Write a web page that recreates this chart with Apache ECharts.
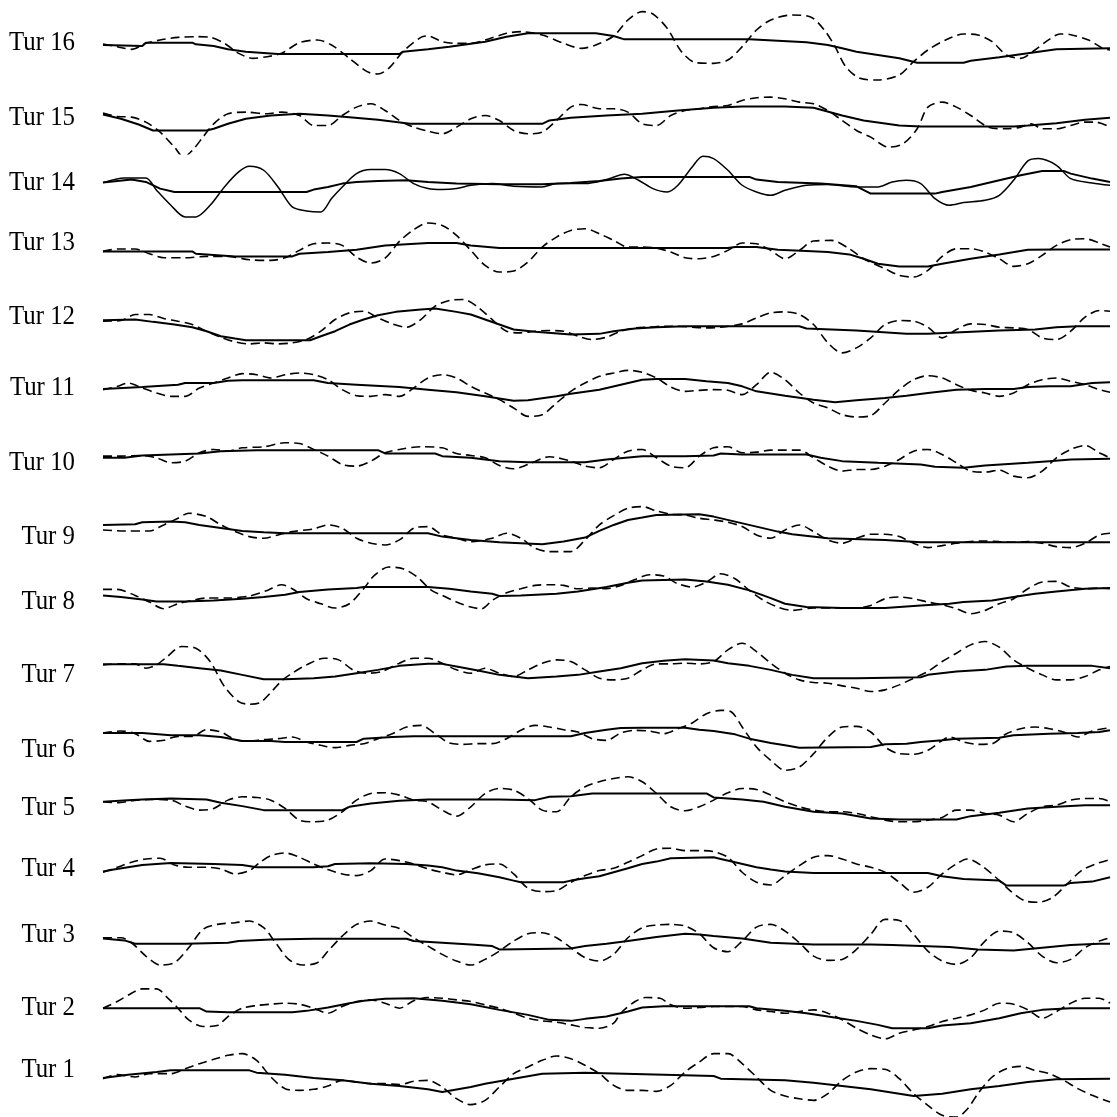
<!DOCTYPE html>
<html>
<head>
<meta charset="utf-8">
<script src="https://cdn.jsdelivr.net/npm/echarts@6/dist/echarts.min.js"></script>
<style>
html,body{margin:0;padding:0;background:#fff;}
#chart{width:1117px;height:1117px;}
</style>
</head>
<body>
<div id="chart"></div>
<script>
// Row labels, top to bottom
const labels = ['Tur 16','Tur 15','Tur 14','Tur 13','Tur 12','Tur 11','Tur 10','Tur 9','Tur 8','Tur 7','Tur 6','Tur 5','Tur 4','Tur 3','Tur 2','Tur 1'];

// Each series: [time, value] pairs (time 145..1555, value relative to row centre)
const s16 = [[145,0],[200,-3],[205,7],[270,7],[275,2],[300,-3],[320,-13],[345,-20],[390,-27],[560,-27],[565,-20],[600,-13],[630,-5],[680,10],[710,25],[740,35],[835,35],[860,27],[875,17],[1050,17],[1090,13],[1130,8],[1160,0],[1180,-10],[1200,-20],[1230,-30],[1260,-40],[1285,-53],[1350,-53],[1360,-47],[1400,-37],[1440,-25],[1480,-13],[1555,-10]];
const d16 = [[145,3],[165,-5],[185,-13],[205,5],[230,17],[250,23],[275,25],[295,23],[315,5],[335,-25],[355,-40],[375,-35],[395,-25],[420,7],[445,15],[465,0],[490,-40],[515,-80],[530,-87],[545,-70],[565,-20],[590,23],[600,27],[620,10],[640,5],[660,5],[680,15],[710,35],[730,40],[760,30],[790,5],[815,-10],[835,0],[860,27],[880,75],[900,100],[915,93],[935,50],[955,-20],[975,-53],[1000,-55],[1020,-45],[1040,-5],[1060,45],[1080,75],[1110,90],[1135,85],[1155,45],[1170,-5],[1185,-65],[1205,-100],[1230,-105],[1260,-90],[1280,-50],[1300,-15],[1325,15],[1350,33],[1370,30],[1390,10],[1410,-30],[1430,-40],[1450,-15],[1470,17],[1485,33],[1500,31],[1525,15],[1545,-10],[1555,-15]];

const s15 = [[145,-2],[170,-15],[195,-32],[215,-50],[290,-50],[300,-45],[320,-30],[345,-15],[380,-5],[420,0],[460,-5],[490,-10],[530,-18],[575,-30],[760,-30],[770,-20],[800,-12],[850,-5],[900,0],[950,10],[1000,18],[1040,22],[1100,22],[1140,18],[1180,-5],[1210,-20],[1260,-35],[1290,-38],[1420,-38],[1440,-35],[1480,-28],[1520,-18],[1555,-12]];
const d15 = [[145,2],[165,-8],[185,-10],[205,-25],[225,-55],[245,-100],[258,-130],[270,-110],[285,-70],[300,-30],[320,0],[345,5],[375,0],[395,5],[420,-5],[440,-35],[460,-35],[480,-5],[500,20],[520,30],[540,10],[560,-20],[580,-40],[600,-52],[620,-60],[640,-40],[660,-15],[680,-5],[700,-20],[720,-50],[740,-60],[760,-55],[780,-20],[800,20],[815,28],[840,15],[860,15],[880,5],[900,-30],[920,-35],[940,-5],[960,10],[980,15],[1000,22],[1020,25],[1040,40],[1060,48],[1080,50],[1100,45],[1120,35],[1140,30],[1160,10],[1180,-20],[1200,-50],[1220,-70],[1245,-100],[1265,-90],[1285,-45],[1300,20],[1320,35],[1340,20],[1360,-5],[1385,-40],[1410,-45],[1430,-40],[1445,-30],[1460,-45],[1480,-45],[1500,-35],[1520,-25],[1535,-25],[1555,-40]];

const s14 = [[145,0],[165,5],[185,9],[205,2],[225,-18],[245,-28],[430,-28],[440,-21],[460,-13],[480,-3],[500,2],[530,5],[570,7],[600,2],[640,-3],[700,-5],[760,-5],[800,-1],[840,5],[870,12],[900,17],[1050,17],[1060,9],[1090,2],[1150,-3],[1200,-11],[1220,-33],[1310,-33],[1320,-28],[1360,-13],[1400,7],[1430,22],[1460,35],[1490,35],[1500,27],[1530,12],[1555,2]];
const f14 = [[145,0],[175,14],[205,14],[220,-23],[240,-68],[260,-103],[275,-103],[295,-68],[315,-13],[335,32],[350,49],[370,37],[390,-13],[410,-73],[430,-85],[450,-88],[465,-48],[480,-13],[500,27],[520,39],[540,39],[560,27],[580,-3],[600,-18],[620,-21],[640,-18],[660,-8],[690,-3],[720,-11],[760,-13],[780,-3],[820,-3],[850,9],[875,25],[895,7],[915,-18],[935,-28],[950,-8],[970,47],[985,79],[1000,72],[1020,37],[1040,-8],[1060,-28],[1080,-38],[1100,-23],[1130,-8],[1160,-6],[1200,-13],[1230,-13],[1250,2],[1270,7],[1290,-3],[1310,-48],[1330,-68],[1350,-60],[1380,-53],[1400,-38],[1420,7],[1440,65],[1455,72],[1480,52],[1500,12],[1530,-1],[1555,-8]];

const s13 = [[145,0],[270,0],[275,-7],[330,-15],[410,-15],[420,-7],[460,-2],[500,5],[540,18],[600,25],[640,25],[660,18],[700,10],[1020,10],[1030,13],[1060,13],[1090,5],[1130,1],[1160,-2],[1190,-9],[1210,-22],[1230,-37],[1260,-45],[1300,-45],[1320,-37],[1360,-22],[1400,-9],[1440,5],[1480,6],[1555,6]];
const d13 = [[145,0],[165,7],[190,7],[210,-7],[230,-19],[260,-19],[290,-15],[320,-15],[350,-25],[380,-27],[400,-19],[420,3],[440,23],[460,25],[480,18],[500,-17],[520,-35],[540,-20],[560,30],[580,65],[600,85],[620,78],[640,48],[660,3],[680,-42],[700,-62],[720,-59],[740,-32],[760,13],[780,43],[800,63],[820,68],[840,53],[860,33],[880,13],[900,13],[920,10],[940,-2],[960,-19],[980,-22],[1000,-15],[1020,3],[1040,25],[1060,23],[1080,3],[1100,-22],[1120,3],[1140,31],[1165,33],[1190,8],[1210,-22],[1240,-52],[1260,-72],[1280,-77],[1300,-57],[1320,-15],[1340,8],[1360,8],[1380,-2],[1400,-22],[1420,-45],[1440,-37],[1460,-12],[1480,18],[1500,35],[1520,38],[1540,25],[1555,13]];

const s12 = [[145,0],[190,2],[215,-5],[245,-13],[270,-21],[290,-33],[310,-48],[330,-55],[345,-60],[435,-60],[450,-48],[470,-33],[490,-13],[510,2],[530,15],[555,25],[590,32],[610,35],[640,25],[660,17],[680,2],[700,-13],[720,-28],[750,-35],[800,-43],[840,-41],[860,-33],[890,-25],[920,-21],[960,-18],[1120,-18],[1130,-25],[1200,-31],[1270,-41],[1300,-41],[1400,-31],[1450,-28],[1480,-21],[1510,-18],[1555,-18]];
const d12 = [[145,-3],[170,-1],[190,17],[210,17],[230,5],[250,-3],[270,-13],[290,-33],[310,-51],[330,-65],[350,-71],[370,-68],[390,-71],[410,-68],[430,-58],[450,-33],[470,2],[490,22],[510,27],[530,7],[550,-11],[570,-21],[590,2],[610,42],[630,59],[650,62],[670,39],[690,2],[710,-33],[730,-38],[750,-33],[770,-31],[790,-33],[810,-48],[830,-58],[850,-51],[870,-33],[890,-23],[910,-21],[930,-18],[950,-18],[970,-21],[990,-23],[1010,-21],[1040,-11],[1060,7],[1080,22],[1100,25],[1120,17],[1140,-13],[1160,-68],[1180,-98],[1200,-83],[1220,-53],[1240,-13],[1260,-1],[1280,-3],[1300,-21],[1320,-53],[1340,-28],[1360,-11],[1380,-13],[1400,-21],[1420,-23],[1440,-28],[1460,-53],[1480,-58],[1500,-33],[1520,9],[1540,29],[1555,27]];

const s11 = [[145,0],[200,6],[250,13],[260,18],[300,18],[320,25],[340,26],[440,26],[460,18],[500,13],[560,6],[600,-2],[640,-10],[680,-22],[720,-35],[740,-34],[780,-22],[800,-14],[840,-2],[870,13],[900,28],[920,30],[960,30],[990,23],[1020,18],[1040,8],[1060,-7],[1100,-20],[1140,-32],[1170,-40],[1200,-34],[1240,-27],[1270,-20],[1300,-12],[1340,-2],[1380,0],[1420,0],[1440,6],[1470,8],[1500,8],[1530,18],[1555,20]];
const d11 = [[145,-2],[165,8],[180,18],[200,3],[220,-12],[240,-22],[260,-22],[280,3],[300,18],[320,33],[340,46],[360,43],[380,33],[400,43],[420,48],[440,43],[460,28],[480,-2],[500,-20],[520,-22],[540,-17],[560,-22],[580,3],[600,33],[620,43],[640,33],[660,8],[680,-12],[700,-32],[720,-57],[740,-82],[760,-77],[780,-42],[800,-7],[820,18],[840,38],[860,48],[880,56],[900,50],[920,33],[940,6],[960,-7],[980,-4],[1000,-2],[1020,-4],[1040,-17],[1060,13],[1080,50],[1100,28],[1120,-12],[1140,-42],[1160,-57],[1180,-77],[1200,-84],[1220,-80],[1240,-42],[1260,-2],[1280,28],[1300,40],[1320,33],[1340,13],[1360,-4],[1380,-12],[1400,-22],[1420,-12],[1440,13],[1460,28],[1480,33],[1500,23],[1520,13],[1540,-2],[1555,-10]];

const s10 = [[145,0],[175,0],[200,7],[240,10],[280,13],[310,20],[360,23],[530,23],[540,13],[610,13],[620,5],[660,0],[700,-10],[740,-13],[820,-13],[850,-5],[900,5],[960,5],[1000,7],[1010,13],[1040,10],[1130,10],[1150,0],[1180,-10],[1230,-15],[1290,-20],[1310,-27],[1350,-30],[1380,-23],[1440,-15],[1470,-10],[1500,-5],[1555,-3]];
const d10 = [[145,5],[165,5],[200,7],[220,0],[240,-15],[260,-10],[280,15],[300,25],[320,20],[340,30],[370,33],[400,45],[420,43],[440,25],[460,5],[480,-20],[500,-25],[520,-10],[540,15],[560,25],[590,33],[620,30],[640,13],[660,7],[680,0],[700,-23],[720,-33],[740,-20],[770,3],[800,-10],[820,-25],[840,-30],[860,-5],[880,20],[900,25],[920,0],[940,-25],[960,-30],[980,5],[1000,30],[1020,33],[1040,15],[1060,17],[1080,23],[1100,23],[1120,23],[1140,0],[1160,-25],[1180,-40],[1200,-35],[1220,-35],[1240,-25],[1260,-5],[1280,20],[1300,25],[1320,10],[1340,-15],[1360,-40],[1380,-43],[1400,-37],[1420,-55],[1440,-60],[1460,-40],[1480,0],[1500,25],[1520,37],[1540,15],[1555,0]];

const s9 = [[145,5],[190,7],[200,13],[240,15],[260,13],[280,5],[320,-7],[340,-13],[370,-17],[400,-20],[600,-20],[620,-30],[660,-40],[700,-47],[760,-53],[790,-45],[820,-33],[840,-13],[860,5],[880,20],[900,27],[920,35],[980,37],[1000,30],[1030,15],[1060,0],[1090,-15],[1110,-23],[1160,-35],[1240,-40],[1290,-47],[1555,-47]];
const d9 = [[145,-10],[175,-13],[210,-13],[230,5],[250,25],[265,40],[290,30],[310,5],[330,-15],[350,-30],[370,-35],[390,-25],[410,-15],[440,-7],[460,5],[480,-5],[500,-35],[520,-50],[540,-55],[560,-40],[580,-5],[600,0],[620,-25],[640,-35],[660,-45],[690,-35],[710,-20],[730,-35],[750,-65],[770,-75],[800,-75],[820,-40],[840,5],[860,33],[880,55],[900,60],[920,47],[940,37],[960,35],[980,25],[1000,20],[1020,13],[1040,0],[1060,-25],[1080,-35],[1100,-10],[1120,5],[1140,-15],[1160,-40],[1180,-50],[1200,-35],[1220,-23],[1240,-23],[1260,-30],[1280,-50],[1300,-63],[1320,-57],[1340,-50],[1360,-45],[1380,-43],[1400,-45],[1420,-47],[1440,-45],[1460,-50],[1480,-60],[1500,-63],[1520,-50],[1540,-25],[1555,-20]];

const s8 = [[145,0],[170,-5],[200,-12],[220,-18],[260,-18],[300,-15],[340,-10],[370,-5],[400,2],[420,10],[460,18],[500,22],[510,25],[600,25],[630,20],[660,12],[690,5],[700,-2],[730,0],[780,5],[810,12],[850,25],[880,38],[900,45],[960,48],[990,42],[1020,32],[1050,15],[1080,-8],[1100,-25],[1130,-35],[1180,-38],[1240,-38],[1290,-30],[1330,-25],[1350,-20],[1390,-15],[1420,-5],[1450,5],[1480,12],[1520,20],[1555,22]];
const d8 = [[145,18],[165,18],[190,0],[210,-20],[230,-40],[250,-25],[270,-15],[290,-8],[320,-8],[350,-2],[375,15],[395,32],[410,20],[430,-10],[450,-25],[470,-38],[490,-25],[510,20],[525,60],[545,85],[565,80],[585,55],[605,15],[620,0],[640,-20],[660,-35],[675,-40],[690,-15],[710,8],[730,20],[750,30],[770,32],[790,30],[810,20],[830,22],[850,20],[870,30],[890,48],[910,62],[930,58],[950,35],[970,25],[990,40],[1010,65],[1030,50],[1050,15],[1070,-15],[1090,-35],[1110,-45],[1140,-38],[1170,-38],[1200,-38],[1220,-30],[1240,-10],[1260,-5],[1280,-10],[1300,-20],[1320,-28],[1340,-40],[1360,-55],[1380,-45],[1400,-25],[1420,-10],[1440,20],[1460,40],[1480,42],[1500,25],[1520,20],[1540,22],[1555,20]];

const s7 = [[145,0],[230,0],[250,-5],[280,-12],[310,-19],[340,-32],[370,-45],[400,-45],[440,-42],[470,-37],[500,-27],[530,-17],[560,-5],[600,1],[620,1],[640,-7],[670,-19],[700,-32],[740,-42],[780,-37],[810,-32],[840,-22],[870,-12],[900,3],[930,10],[960,15],[1000,11],[1020,3],[1050,-5],[1080,-17],[1110,-32],[1140,-42],[1200,-42],[1290,-39],[1300,-32],[1340,-22],[1380,-17],[1410,-7],[1440,-5],[1530,-5],[1555,-12]];
const d7 = [[145,-2],[170,1],[190,1],[205,-12],[220,-2],[235,23],[255,53],[275,48],[295,8],[315,-67],[335,-112],[350,-120],[365,-115],[380,-85],[395,-50],[410,-27],[430,-2],[455,18],[475,13],[495,-17],[515,-27],[535,-22],[560,3],[580,18],[600,18],[620,3],[640,-17],[660,-27],[680,-12],[700,-27],[720,-37],[740,-17],[760,3],[780,13],[800,8],[820,-17],[840,-42],[860,-47],[880,-42],[900,-17],[920,1],[940,1],[960,3],[980,1],[1000,8],[1020,43],[1040,63],[1060,38],[1080,3],[1100,-27],[1120,-47],[1140,-55],[1160,-57],[1180,-65],[1200,-72],[1220,-82],[1240,-77],[1260,-62],[1280,-42],[1300,-22],[1320,8],[1340,33],[1360,58],[1380,68],[1400,51],[1420,13],[1440,-12],[1460,-32],[1480,-47],[1500,-47],[1520,-37],[1540,-17],[1555,-7]];

const s6 = [[145,0],[200,0],[240,-7],[280,-7],[310,-12],[340,-24],[380,-24],[400,-27],[500,-27],[510,-17],[550,-12],[580,-10],[800,-10],[820,0],[850,10],[870,15],[900,16],[960,16],[980,10],[1000,6],[1030,-4],[1050,-17],[1080,-30],[1100,-37],[1120,-44],[1220,-42],[1240,-34],[1270,-32],[1290,-27],[1320,-22],[1340,-17],[1400,-14],[1420,-7],[1470,-2],[1510,0],[1540,3],[1555,8]];
const d6 = [[145,0],[170,6],[190,-2],[210,-25],[230,-22],[250,-10],[270,-10],[290,10],[310,3],[330,-20],[350,-24],[370,-20],[390,-17],[410,-12],[430,-27],[450,-37],[470,-44],[490,-37],[510,-32],[530,-17],[550,-2],[570,18],[590,23],[610,-2],[630,-30],[650,-34],[670,-32],[690,-32],[710,-17],[730,8],[750,23],[770,18],[790,10],[810,3],[830,-17],[850,-22],[870,0],[890,8],[910,6],[930,-2],[950,13],[970,30],[990,58],[1010,68],[1025,63],[1040,18],[1060,-42],[1080,-82],[1100,-112],[1120,-102],[1140,-62],[1160,-12],[1180,18],[1200,20],[1220,3],[1240,-42],[1260,-62],[1280,-64],[1300,-52],[1320,-22],[1330,-12],[1350,-27],[1370,-34],[1390,-32],[1410,-2],[1430,13],[1450,18],[1470,13],[1490,3],[1510,-12],[1530,6],[1555,16]];

const s5 = [[145,0],[180,5],[200,7],[240,10],[290,7],[310,-3],[340,-13],[370,-25],[480,-25],[490,-15],[520,-5],[560,3],[600,7],[700,7],[750,5],[770,15],[800,17],[830,25],[990,25],[1000,13],[1040,7],[1070,0],[1100,-15],[1140,-30],[1180,-35],[1220,-50],[1260,-53],[1340,-53],[1360,-43],[1400,-33],[1440,-20],[1480,-15],[1520,-10],[1555,-10]];
const d5 = [[145,0],[165,-3],[185,3],[210,7],[240,5],[260,-13],[280,-25],[300,-20],[320,5],[340,15],[360,13],[380,5],[400,-20],[420,-55],[440,-60],[460,-55],[480,-30],[500,5],[520,25],[540,27],[560,20],[580,5],[600,0],[620,-25],[640,-43],[660,-15],[680,25],[700,40],[720,35],[740,10],[760,-25],[780,-30],[800,15],[820,45],[840,60],[860,70],[880,75],[900,60],[920,25],[940,-15],[960,-27],[980,-15],[1000,5],[1020,27],[1040,40],[1060,37],[1080,20],[1100,0],[1120,-15],[1140,-25],[1160,-30],[1180,-30],[1200,-35],[1220,-45],[1240,-55],[1260,-60],[1280,-60],[1300,-55],[1320,-47],[1340,-25],[1360,-25],[1380,-35],[1400,-40],[1420,-60],[1440,-35],[1460,-15],[1480,-10],[1500,5],[1520,10],[1540,10],[1555,0]];

const s4 = [[145,-3],[160,3],[180,10],[200,17],[240,23],[300,20],[340,17],[360,10],[440,10],[460,13],[470,20],[520,22],[570,20],[600,15],[620,10],[640,0],[670,-8],[700,-20],[720,-30],[730,-35],[790,-35],[800,-30],[820,-23],[840,-17],[860,-5],[880,7],[900,20],[920,27],[940,37],[1000,40],[1010,35],[1030,25],[1060,10],[1080,3],[1100,-3],[1140,-7],[1300,-7],[1320,-17],[1350,-25],[1400,-30],[1410,-45],[1490,-45],[1500,-37],[1530,-33],[1555,-20]];
const d4 = [[145,-5],[165,10],[185,25],[205,35],[225,37],[245,17],[265,10],[290,10],[310,5],[330,-10],[350,0],[365,25],[380,45],[400,53],[420,40],[440,20],[460,3],[480,-10],[500,-15],[520,0],[540,35],[560,30],[580,20],[600,5],[620,-5],[640,-13],[660,3],[680,17],[700,20],[720,-10],[740,-53],[760,-63],[780,-60],[800,-35],[820,-15],[840,0],[860,7],[880,25],[900,45],[920,65],[940,67],[960,60],[980,60],[1000,57],[1020,40],[1040,-5],[1060,-35],[1080,-43],[1100,-15],[1120,15],[1140,40],[1160,45],[1180,35],[1200,20],[1220,10],[1240,-5],[1260,-35],[1280,-65],[1300,-50],[1320,-10],[1340,20],[1355,35],[1375,15],[1395,-20],[1415,-60],[1435,-90],[1455,-95],[1475,-80],[1495,-40],[1515,0],[1535,20],[1555,33]];

const s3 = [[145,3],[175,-3],[190,-13],[260,-13],[320,-10],[335,-5],[380,0],[440,2],[570,2],[580,-5],[620,-10],[660,-15],[690,-20],[700,-30],[800,-27],[820,-20],[850,-13],[880,-5],[920,7],[960,17],[980,15],[1000,10],[1040,3],[1080,-10],[1140,-15],[1220,-15],[1250,-17],[1330,-23],[1370,-30],[1420,-33],[1460,-25],[1500,-17],[1540,-13],[1555,-13]];
const d3 = [[145,5],[170,5],[185,-10],[205,-50],[225,-77],[245,-70],[265,-25],[285,30],[305,45],[330,50],[350,55],[370,35],[385,-5],[405,-60],[425,-77],[445,-70],[460,-35],[480,10],[500,45],[520,55],[540,43],[560,33],[580,5],[600,-20],[620,-45],[640,-65],[660,-77],[680,-60],[700,-35],[720,-5],[740,17],[760,20],[780,5],[800,-25],[820,-55],[840,-65],[860,-45],[880,5],[900,35],[920,43],[940,45],[960,40],[980,17],[1000,-25],[1020,-37],[1040,-5],[1060,37],[1080,45],[1100,25],[1120,-10],[1140,-50],[1160,-63],[1180,-60],[1200,-30],[1220,15],[1240,60],[1260,57],[1280,15],[1300,-35],[1320,-65],[1340,-75],[1360,-55],[1380,-5],[1400,25],[1420,20],[1440,-10],[1460,-50],[1480,-70],[1500,-60],[1520,-25],[1540,-5],[1555,5]];

const s2 = [[145,0],[280,0],[290,-10],[320,-12],[410,-12],[430,-8],[460,2],[490,15],[510,22],[540,28],[580,30],[620,22],[660,12],[700,-5],[740,-20],[770,-35],[800,-38],[820,-32],[850,-25],[880,-10],[900,2],[930,6],[1050,6],[1060,0],[1100,-8],[1130,-15],[1160,-25],[1200,-38],[1230,-50],[1250,-60],[1300,-60],[1320,-52],[1360,-45],[1400,-30],[1430,-15],[1460,-5],[1500,0],[1555,0]];
const d2 = [[145,0],[165,20],[185,45],[200,58],[220,58],[235,32],[250,0],[265,-35],[285,-55],[305,-52],[320,-25],[340,0],[360,8],[380,12],[400,15],[420,12],[440,0],[460,-15],[480,5],[500,20],[520,25],[540,15],[560,0],[580,22],[600,32],[620,30],[640,25],[660,20],[680,10],[700,0],[720,-15],[740,-30],[760,-38],[780,-42],[800,-50],[820,-58],[840,-60],[860,-45],[870,-15],[890,20],[905,32],[925,30],[940,10],[960,0],[980,2],[1000,5],[1020,5],[1040,5],[1060,-5],[1080,-10],[1100,-15],[1120,-10],[1140,-5],[1160,-15],[1180,-35],[1200,-60],[1220,-80],[1240,-92],[1260,-75],[1280,-65],[1300,-55],[1320,-40],[1340,-30],[1360,-20],[1380,-5],[1400,15],[1420,12],[1440,-5],[1460,-30],[1480,-10],[1500,15],[1520,30],[1540,30],[1555,15]];

const s1 = [[145,-3],[180,7],[220,15],[240,20],[350,20],[360,13],[400,7],[440,-3],[480,-10],[520,-20],[560,-27],[600,-37],[620,-45],[660,-30],[680,-20],[720,-5],[760,10],[820,13],[1000,3],[1010,-5],[1100,-10],[1140,-17],[1180,-27],[1220,-37],[1260,-50],[1280,-57],[1320,-50],[1360,-37],[1400,-27],[1440,-15],[1480,-7],[1555,-5]];
const d1 = [[145,-5],[165,7],[190,0],[210,10],[240,10],[260,25],[280,40],[300,53],[320,65],[340,70],[360,50],[380,0],[400,-35],[420,-40],[440,-37],[460,-27],[480,-10],[500,-15],[520,-20],[540,-20],[560,-23],[580,-13],[600,-10],[620,-30],[640,-65],[660,-83],[680,-70],[700,-30],[720,10],[740,30],[760,50],[780,63],[800,55],[820,35],[840,10],[860,-25],[880,-40],[900,-40],[920,-43],[940,-25],[960,15],[980,45],[1000,70],[1020,70],[1040,40],[1060,0],[1080,-40],[1100,-57],[1120,-65],[1140,-70],[1160,-50],[1180,-10],[1200,15],[1220,25],[1240,23],[1260,-5],[1280,-50],[1300,-85],[1320,-115],[1340,-120],[1355,-97],[1370,-50],[1390,0],[1410,25],[1430,32],[1450,20],[1470,10],[1490,-10],[1510,-35],[1530,-55],[1555,-75]];

const slowSeries = [s16,s15,s14,s13,s12,s11,s10,s9,s8,s7,s6,s5,s4,s3,s2,s1];
const fastSeries = [d16,d15,f14,d13,d12,d11,d10,d9,d8,d7,d6,d5,d4,d3,d2,d1];

// layout
const rowTop0 = 45, rowStep = 68.8, halfH = 40;
const labelYs = [43,118,183,243,317,388,463,537,602,675,750,808,869,935,1008,1070];

const grids = [], xAxes = [], yAxes = [], series = [], graphics = [];
labels.forEach((lab, i) => {
  const cy = rowTop0 + rowStep * i;
  grids.push({left: 103, width: 1007, top: cy - halfH, height: halfH * 2});
  xAxes.push({gridIndex: i, type: 'value', min: 145, max: 1555, show: false});
  yAxes.push({gridIndex: i, type: 'value', min: -120, max: 120, show: false});
  const fastSolid = lab === 'Tur 14';
  series.push({
    type: 'line', xAxisIndex: i, yAxisIndex: i, data: fastSeries[i],
    showSymbol: false, smooth: 0.3, silent: true,
    lineStyle: {color: '#000', width: fastSolid ? 1.5 : 1.6, type: fastSolid ? 'solid' : [9, 5]}
  });
  series.push({
    type: 'line', xAxisIndex: i, yAxisIndex: i, data: slowSeries[i],
    showSymbol: false, smooth: false, silent: true,
    lineStyle: {color: '#000', width: 2}
  });
  graphics.push({
    type: 'text', x: 75, y: labelYs[i], scaleX: 0.92,
    style: {text: lab, fill: '#000', font: '27px "Liberation Serif", "Times New Roman", serif', textAlign: 'right', textVerticalAlign: 'middle'}
  });
});

const chart = echarts.init(document.getElementById('chart'), null, {renderer: 'canvas'});
chart.setOption({
  animation: false,
  backgroundColor: '#fff',
  grid: grids, xAxis: xAxes, yAxis: yAxes, series: series,
  graphic: graphics
});
</script>
</body>
</html>
